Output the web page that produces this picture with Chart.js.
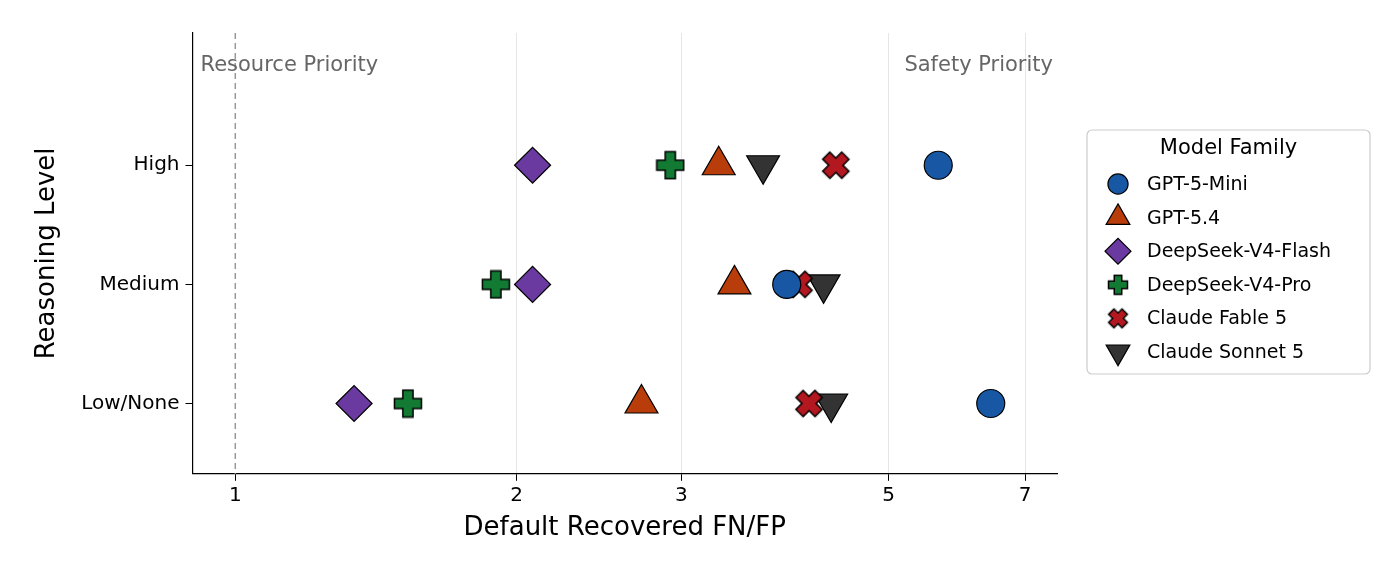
<!DOCTYPE html>
<html><head><meta charset="utf-8">
<script src="https://cdn.jsdelivr.net/npm/chart.js@4/dist/chart.umd.min.js"></script>
<style>html,body{margin:0;padding:0;background:#fff}#w{width:1396px;height:568px}</style>
</head><body><div id="w"><canvas id="c"></canvas></div>
<script>
const categories = ["Low/None", "Medium", "High"];
const models = ["GPT-5-Mini","GPT-5.4","DeepSeek-V4-Flash","DeepSeek-V4-Pro","Claude Fable 5","Claude Sonnet 5"];
// values ordered [Low/None, Medium, High]
const gpt5mini = [6.43, 3.89, 5.65];
const gpt54 = [2.72, 3.42, 3.29];
const dsFlash = [1.34, 2.08, 2.08];
const dsPro = [1.53, 1.90, 2.92];
const fable = [4.11, 4.01, 4.39];
const sonnet = [4.34, 4.26, 3.67];
const xTicks = [1, 2, 3, 5, 7];

function plusImg(size, fill){
  const c=document.createElement('canvas'); c.width=size; c.height=size;
  const g=c.getContext('2d'); const s=size, a=s*0.33, b=s*0.67, m=1.5;
  g.beginPath();
  g.moveTo(a,m);g.lineTo(b,m);g.lineTo(b,a);g.lineTo(s-m,a);g.lineTo(s-m,b);g.lineTo(b,b);
  g.lineTo(b,s-m);g.lineTo(a,s-m);g.lineTo(a,b);g.lineTo(m,b);g.lineTo(m,a);g.lineTo(a,a);g.closePath();
  g.fillStyle=fill;g.fill();g.lineWidth=1.5;g.strokeStyle='#000';g.stroke();
  return c;
}
const styles = [
  {color:'#1857a4', ps:'circle', r:14, rot:0, lps:'circle'},
  {color:'#b83d0a', ps:'triangle', r:19, rot:0, lps:'triangle'},
  {color:'#6b3aa0', ps:'rectRot', r:18, rot:0, lps:'rectRot'},
  {color:'#127a33', ps:plusImg(30,'#127a33'), r:16, rot:0, lps:plusImg(22,'#127a33')},
  {color:'#b3171f', ps:plusImg(30,'#b3171f'), r:16, rot:45, lps:plusImg(22,'#b3171f')},
  {color:'#333333', ps:'triangle', r:19, rot:180, lps:'triangle'}
];
const series=[gpt5mini,gpt54,dsFlash,dsPro,fable,sonnet];
const datasets = series.map((vals,i)=>({
  label: models[i],
  data: vals.map((v,j)=>({x:v,y:j})),
  backgroundColor: styles[i].color, borderColor:'#000', borderWidth:1.2,
  pointStyle: styles[i].ps, pointRadius: styles[i].r, pointHoverRadius: styles[i].r, pointRotation: styles[i].rot
}));

const extra = {
  id:'extra',
  beforeDatasetsDraw(ch){
    const g=ch.ctx, x=ch.scales.x.getPixelForValue(1), a=ch.chartArea;
    g.save(); g.setLineDash([6,4]); g.strokeStyle='#999'; g.lineWidth=1.5;
    g.beginPath(); g.moveTo(x,a.top); g.lineTo(x,a.bottom); g.stroke(); g.restore();
    const yT=ch.scales.y.getPixelForValue(2.84);
    g.save(); g.font='21px "DejaVu Sans"'; g.fillStyle='#666'; g.textBaseline='middle';
    g.textAlign='left'; g.fillText('Resource Priority', a.left+8, yT);
    g.textAlign='right'; g.fillText('Safety Priority', a.right-4, yT); g.restore();
  },
  afterDraw(ch){
    const g=ch.ctx; g.save();
    const L=1087,T=130,W=283,H=244;
    g.beginPath(); g.roundRect(L,T,W,H,5); g.fillStyle='#fff'; g.fill();
    g.strokeStyle='#ccc'; g.lineWidth=1.2; g.stroke();
    g.fillStyle='#000'; g.font='21px "DejaVu Sans"'; g.textAlign='center'; g.textBaseline='middle';
    g.fillText('Model Family', L+W/2, 149);
    g.font='19px "DejaVu Sans"'; g.textAlign='left';
    models.forEach((m,i)=>{
      const y=184+i*33.6, s=styles[i];
      g.fillStyle=s.color; g.strokeStyle='#000'; g.lineWidth=1.2;
      Chart.helpers.drawPoint(g,{pointStyle:s.lps,radius:s.r*0.72,rotation:s.rot,borderWidth:1.2},1118,y);
      g.fillStyle='#000'; g.fillText(m,1147,y+1);
    });
    g.restore();
  }
};

new Chart(document.getElementById('c'),{
  type:'scatter', data:{datasets},
  options:{
    responsive:true, maintainAspectRatio:false, animation:false,
    layout:{padding:{top:33,right:339,left:28,bottom:20}},
    plugins:{legend:{display:false},tooltip:{enabled:false}},
    scales:{
      x:{type:'logarithmic', min:0.90, max:7.57,
        afterBuildTicks(s){s.ticks=xTicks.map(v=>({value:v}));},
        ticks:{color:'#000',font:{size:20,family:'DejaVu Sans'},callback:v=>String(v),autoSkip:false,maxRotation:0},
        grid:{color:c=>c.tick&&c.tick.value===1?'rgba(0,0,0,0)':'#e6e6e6',tickColor:'#000',tickLength:7,lineWidth:1},
        border:{color:'#000',width:1.2},
        title:{display:true,text:'Default Recovered FN/FP',color:'#000',font:{size:26,family:'DejaVu Sans'},padding:{top:2}}
      },
      y:{type:'linear', min:-0.59, max:3.11,
        afterBuildTicks(s){s.ticks=[0,1,2].map(v=>({value:v}));},
        ticks:{color:'#000',font:{size:20,family:'DejaVu Sans'},callback:v=>categories[v],padding:6},
        grid:{drawOnChartArea:false,tickColor:'#000',tickLength:7},
        border:{color:'#000',width:1.2},
        title:{display:true,text:'Reasoning Level',color:'#000',font:{size:26,family:'DejaVu Sans'},padding:{bottom:12}}
      }
    }
  },
  plugins:[extra]
});
</script></body></html>
